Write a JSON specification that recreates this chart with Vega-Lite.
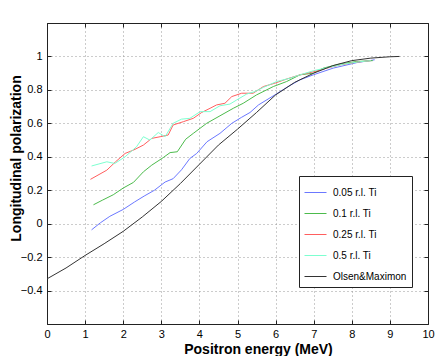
{
 "$schema": "https://vega.github.io/schema/vega-lite/v6.json",
 "width": 381, "height": 301,
 "autosize": "none",
 "padding": {"left": 47, "top": 23, "right": 8, "bottom": 32},
 "background": "white",
 "config": {"font": "Liberation Sans", "view": {"stroke": "#222", "strokeWidth": 1}},
 "data": {"values": [
  {"s":"0.05 r.l. Ti","E":1.17,"P":-0.037},{"s":"0.05 r.l. Ti","E":1.4,"P":0.005},{"s":"0.05 r.l. Ti","E":1.65,"P":0.044},{"s":"0.05 r.l. Ti","E":2.0,"P":0.085},{"s":"0.05 r.l. Ti","E":2.3,"P":0.13},{"s":"0.05 r.l. Ti","E":2.55,"P":0.165},{"s":"0.05 r.l. Ti","E":2.82,"P":0.2},{"s":"0.05 r.l. Ti","E":3.1,"P":0.249},{"s":"0.05 r.l. Ti","E":3.31,"P":0.269},{"s":"0.05 r.l. Ti","E":3.53,"P":0.322},{"s":"0.05 r.l. Ti","E":3.75,"P":0.39},{"s":"0.05 r.l. Ti","E":3.93,"P":0.42},{"s":"0.05 r.l. Ti","E":4.2,"P":0.49},{"s":"0.05 r.l. Ti","E":4.54,"P":0.54},{"s":"0.05 r.l. Ti","E":4.85,"P":0.6},{"s":"0.05 r.l. Ti","E":5.1,"P":0.635},{"s":"0.05 r.l. Ti","E":5.33,"P":0.665},{"s":"0.05 r.l. Ti","E":5.55,"P":0.71},{"s":"0.05 r.l. Ti","E":5.98,"P":0.77},{"s":"0.05 r.l. Ti","E":6.33,"P":0.82},{"s":"0.05 r.l. Ti","E":6.64,"P":0.86},{"s":"0.05 r.l. Ti","E":6.99,"P":0.89},{"s":"0.05 r.l. Ti","E":7.51,"P":0.93},{"s":"0.05 r.l. Ti","E":8.13,"P":0.963},{"s":"0.05 r.l. Ti","E":8.6,"P":0.98},
  {"s":"0.1 r.l. Ti","E":1.22,"P":0.113},{"s":"0.1 r.l. Ti","E":1.45,"P":0.14},{"s":"0.1 r.l. Ti","E":1.74,"P":0.173},{"s":"0.1 r.l. Ti","E":2.0,"P":0.213},{"s":"0.1 r.l. Ti","E":2.27,"P":0.247},{"s":"0.1 r.l. Ti","E":2.53,"P":0.31},{"s":"0.1 r.l. Ti","E":2.75,"P":0.35},{"s":"0.1 r.l. Ti","E":3.05,"P":0.395},{"s":"0.1 r.l. Ti","E":3.23,"P":0.425},{"s":"0.1 r.l. Ti","E":3.42,"P":0.43},{"s":"0.1 r.l. Ti","E":3.64,"P":0.505},{"s":"0.1 r.l. Ti","E":3.84,"P":0.54},{"s":"0.1 r.l. Ti","E":4.19,"P":0.6},{"s":"0.1 r.l. Ti","E":4.54,"P":0.645},{"s":"0.1 r.l. Ti","E":4.89,"P":0.69},{"s":"0.1 r.l. Ti","E":5.15,"P":0.72},{"s":"0.1 r.l. Ti","E":5.5,"P":0.77},{"s":"0.1 r.l. Ti","E":5.94,"P":0.82},{"s":"0.1 r.l. Ti","E":6.29,"P":0.85},{"s":"0.1 r.l. Ti","E":6.64,"P":0.89},{"s":"0.1 r.l. Ti","E":6.99,"P":0.9},{"s":"0.1 r.l. Ti","E":7.25,"P":0.93},{"s":"0.1 r.l. Ti","E":7.69,"P":0.955},{"s":"0.1 r.l. Ti","E":8.13,"P":0.97},{"s":"0.1 r.l. Ti","E":8.55,"P":0.975},
  {"s":"0.25 r.l. Ti","E":1.14,"P":0.265},{"s":"0.25 r.l. Ti","E":1.57,"P":0.32},{"s":"0.25 r.l. Ti","E":1.8,"P":0.37},{"s":"0.25 r.l. Ti","E":2.05,"P":0.42},{"s":"0.25 r.l. Ti","E":2.27,"P":0.44},{"s":"0.25 r.l. Ti","E":2.53,"P":0.47},{"s":"0.25 r.l. Ti","E":2.75,"P":0.51},{"s":"0.25 r.l. Ti","E":2.97,"P":0.52},{"s":"0.25 r.l. Ti","E":3.18,"P":0.53},{"s":"0.25 r.l. Ti","E":3.31,"P":0.59},{"s":"0.25 r.l. Ti","E":3.58,"P":0.61},{"s":"0.25 r.l. Ti","E":3.84,"P":0.63},{"s":"0.25 r.l. Ti","E":4.06,"P":0.665},{"s":"0.25 r.l. Ti","E":4.28,"P":0.69},{"s":"0.25 r.l. Ti","E":4.45,"P":0.71},{"s":"0.25 r.l. Ti","E":4.67,"P":0.72},{"s":"0.25 r.l. Ti","E":4.85,"P":0.76},{"s":"0.25 r.l. Ti","E":5.11,"P":0.78},{"s":"0.25 r.l. Ti","E":5.41,"P":0.78},{"s":"0.25 r.l. Ti","E":5.68,"P":0.82},{"s":"0.25 r.l. Ti","E":5.98,"P":0.84},{"s":"0.25 r.l. Ti","E":6.29,"P":0.865},{"s":"0.25 r.l. Ti","E":6.64,"P":0.89},{"s":"0.25 r.l. Ti","E":7.03,"P":0.91},{"s":"0.25 r.l. Ti","E":7.34,"P":0.93},{"s":"0.25 r.l. Ti","E":7.7,"P":0.95},{"s":"0.25 r.l. Ti","E":8.1,"P":0.965},{"s":"0.25 r.l. Ti","E":8.5,"P":0.975},
  {"s":"0.5 r.l. Ti","E":1.17,"P":0.345},{"s":"0.5 r.l. Ti","E":1.57,"P":0.37},{"s":"0.5 r.l. Ti","E":1.78,"P":0.36},{"s":"0.5 r.l. Ti","E":2.05,"P":0.4},{"s":"0.5 r.l. Ti","E":2.35,"P":0.46},{"s":"0.5 r.l. Ti","E":2.53,"P":0.52},{"s":"0.5 r.l. Ti","E":2.7,"P":0.5},{"s":"0.5 r.l. Ti","E":2.92,"P":0.545},{"s":"0.5 r.l. Ti","E":3.1,"P":0.52},{"s":"0.5 r.l. Ti","E":3.31,"P":0.6},{"s":"0.5 r.l. Ti","E":3.53,"P":0.625},{"s":"0.5 r.l. Ti","E":3.75,"P":0.63},{"s":"0.5 r.l. Ti","E":4.02,"P":0.67},{"s":"0.5 r.l. Ti","E":4.28,"P":0.67},{"s":"0.5 r.l. Ti","E":4.54,"P":0.705},{"s":"0.5 r.l. Ti","E":4.8,"P":0.715},{"s":"0.5 r.l. Ti","E":4.98,"P":0.74},{"s":"0.5 r.l. Ti","E":5.24,"P":0.775},{"s":"0.5 r.l. Ti","E":5.46,"P":0.79},{"s":"0.5 r.l. Ti","E":5.68,"P":0.815},{"s":"0.5 r.l. Ti","E":6.03,"P":0.85},{"s":"0.5 r.l. Ti","E":6.38,"P":0.87},{"s":"0.5 r.l. Ti","E":6.64,"P":0.89},{"s":"0.5 r.l. Ti","E":7.0,"P":0.915},{"s":"0.5 r.l. Ti","E":7.4,"P":0.935},{"s":"0.5 r.l. Ti","E":7.8,"P":0.955},{"s":"0.5 r.l. Ti","E":8.2,"P":0.968},{"s":"0.5 r.l. Ti","E":8.5,"P":0.975},
  {"s":"Olsen&Maximon","E":0,"P":-0.33},{"s":"Olsen&Maximon","E":0.5,"P":-0.265},{"s":"Olsen&Maximon","E":1,"P":-0.19},{"s":"Olsen&Maximon","E":1.5,"P":-0.12},{"s":"Olsen&Maximon","E":2,"P":-0.046},{"s":"Olsen&Maximon","E":2.5,"P":0.04},{"s":"Olsen&Maximon","E":3,"P":0.133},{"s":"Olsen&Maximon","E":3.5,"P":0.24},{"s":"Olsen&Maximon","E":4,"P":0.355},{"s":"Olsen&Maximon","E":4.5,"P":0.47},{"s":"Olsen&Maximon","E":5,"P":0.565},{"s":"Olsen&Maximon","E":5.5,"P":0.665},{"s":"Olsen&Maximon","E":6,"P":0.77},{"s":"Olsen&Maximon","E":6.5,"P":0.845},{"s":"Olsen&Maximon","E":7,"P":0.9},{"s":"Olsen&Maximon","E":7.5,"P":0.945},{"s":"Olsen&Maximon","E":8,"P":0.975},{"s":"Olsen&Maximon","E":8.5,"P":0.99},{"s":"Olsen&Maximon","E":9,"P":0.998},{"s":"Olsen&Maximon","E":9.25,"P":1.0}
 ]},
 "layer": [
  {
   "mark": {"type": "line", "strokeWidth": 1},
   "encoding": {
    "x": {"field": "E", "type": "quantitative", "scale": {"domain": [0, 10], "nice": false},
     "axis": {"orient": "bottom", "values": [0,1,2,3,4,5,6,7,8,9,10], "format": "d", "grid": true, "gridDash": [1,3], "gridColor": "#999", "gridWidth": 1,
      "tickSize": -4, "tickColor": "#222", "domainColor": "#222", "labelFontSize": 11, "labelColor": "#000", "labelPadding": 8, "labelFlush": false,
      "title": "Positron energy (MeV)", "titleFontSize": 14, "titleFontWeight": "bold", "titleColor": "#000", "titleX": 211, "titleY": 29.5, "titleBaseline": "alphabetic", "titleAlign": "center"}},
    "y": {"field": "P", "type": "quantitative", "scale": {"domain": [-0.6, 1.2], "nice": false, "zero": false},
     "axis": {"orient": "left", "values": [-0.4,-0.2,0,0.2,0.4,0.6,0.8,1], "format": "~g", "grid": true, "gridDash": [1,3], "gridColor": "#999", "gridWidth": 1,
      "tickSize": -4, "tickColor": "#222", "domainColor": "#222", "labelFontSize": 11, "labelColor": "#000", "labelPadding": 9,
      "title": "Longitudinal polarization", "titleFontSize": 14, "titleFontWeight": "bold", "titleColor": "#000", "titleX": -27, "titleY": 135, "titleAngle": -90, "titleBaseline": "alphabetic", "titleAlign": "center"}},
    "color": {"field": "s", "type": "nominal",
     "scale": {"domain": ["0.05 r.l. Ti","0.1 r.l. Ti","0.25 r.l. Ti","0.5 r.l. Ti","Olsen&Maximon"], "range": ["#6b78ff","#4cbb4c","#ff5e5e","#7dffd0","#333333"]},
     "legend": {"orient": "none", "legendX": 252, "legendY": 153, "title": null, "strokeColor": "#222", "fillColor": "white", "padding": 5,
      "symbolType": "stroke", "symbolSize": 484, "symbolStrokeWidth": 1, "labelFontSize": 10, "labelColor": "#000", "rowPadding": 4, "labelOffset": 6}}
   }
  },
  {
   "mark": {"type": "line", "opacity": 0},
   "encoding": {
    "x": {"field": "E", "type": "quantitative", "axis": {"orient": "top", "values": [0,1,2,3,4,5,6,7,8,9,10], "labels": false, "grid": false, "tickSize": -4, "tickColor": "#222", "domainColor": "#222", "title": null}},
    "y": {"field": "P", "type": "quantitative", "axis": {"orient": "right", "values": [-0.4,-0.2,0,0.2,0.4,0.6,0.8,1], "labels": false, "grid": false, "tickSize": -4, "tickColor": "#222", "domainColor": "#222", "title": null}}
   }
  }
 ],
 "resolve": {"axis": {"x": "independent", "y": "independent"}}
}
